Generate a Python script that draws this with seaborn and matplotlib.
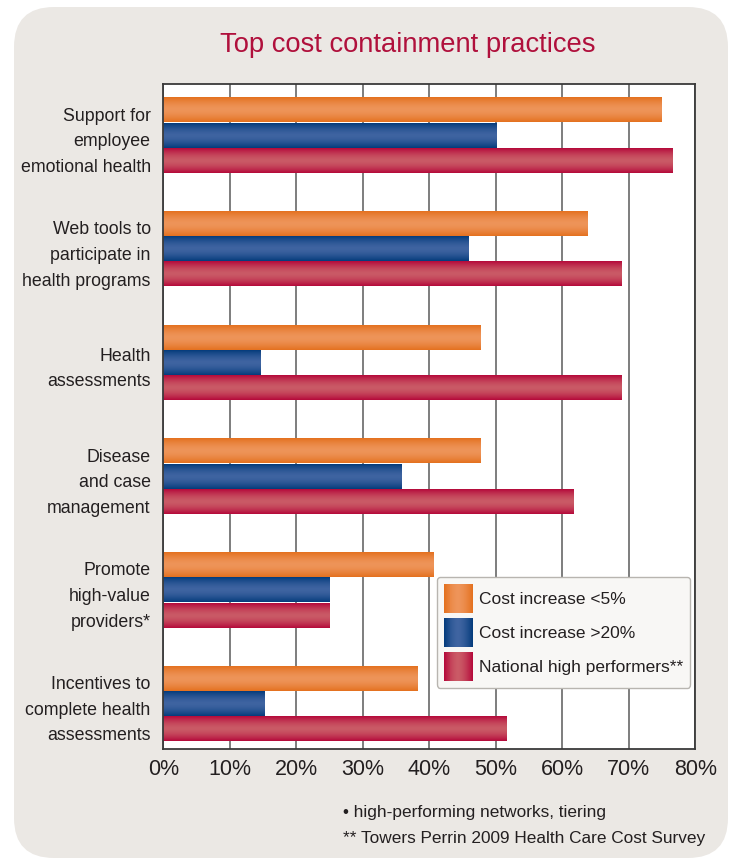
import numpy as np
import pandas as pd
import seaborn as sns
import matplotlib
matplotlib.use("Agg")
import matplotlib.pyplot as plt
from matplotlib.colors import LinearSegmentedColormap
from matplotlib.patches import FancyBboxPatch, Patch, Rectangle
from matplotlib.legend_handler import HandlerBase

# data
practices = [
    "Support for\nemployee\nemotional health",
    "Web tools to\nparticipate in\nhealth programs",
    "Health\nassessments",
    "Disease\nand case\nmanagement",
    "Promote\nhigh-value\nproviders*",
    "Incentives to\ncomplete health\nassessments",
]
groups = ["Cost increase <5%", "Cost increase >20%", "National high performers**"]
cost_low = [75.0, 63.8, 47.8, 47.8, 40.6, 38.3]
cost_high = [50.2, 46.0, 14.6, 35.9, 25.0, 15.3]
national = [76.6, 68.9, 68.9, 61.7, 25.0, 51.7]
x_ticks = [0, 10, 20, 30, 40, 50, 60, 70, 80]

# (edge, middle) colours for the cylinder shading
shades = [("#e4711f", "#ee9459"), ("#053c7c", "#3f64a1"), ("#b50a3b", "#ca5a66")]

sns.set_style("white")
plt.rcParams["font.family"] = ["Liberation Sans", "DejaVu Sans"]

df = pd.DataFrame({
    "practice": practices * 3,
    "group": np.repeat(groups, len(practices)),
    "pct": cost_low + cost_high + national,
})

fig = plt.figure(figsize=(7.3, 8.6), dpi=100)
fig.patch.set_facecolor("white")
panel = FancyBboxPatch((0.14, 0.02), 7.14, 8.51,
                       boxstyle="round,pad=0,rounding_size=0.4",
                       transform=fig.dpi_scale_trans,
                       facecolor="#ebe8e4", edgecolor="none", zorder=-10)
fig.add_artist(panel)

ax = fig.add_axes([0.2236, 0.1291, 0.7290, 0.7732])
sns.barplot(data=df, x="pct", y="practice", hue="group", order=practices,
            hue_order=groups, palette=[s[0] for s in shades], orient="h",
            width=0.667, gap=0.05, saturation=1, legend=False, ax=ax)

cmaps = [LinearSegmentedColormap.from_list(f"c{i}", [d, l]) for i, (d, l) in enumerate(shades)]
profile = (1 - np.abs(np.linspace(-1, 1, 64)) ** 1.6).reshape(-1, 1)

for container, cmap in zip(ax.containers, cmaps):
    for bar in container:
        x0, y0 = bar.get_xy()
        w, h = bar.get_width(), bar.get_height()
        bar.set_facecolor("none")
        bar.set_edgecolor("none")
        ax.imshow(profile, cmap=cmap, vmin=0, vmax=1, aspect="auto",
                  extent=(x0, x0 + w, y0 + h, y0), interpolation="bilinear", zorder=2)

ax.set_xlim(0, 80)
ax.set_ylim(5.396, -0.453)
ax.set_facecolor("white")
ax.set_axisbelow(True)
ax.xaxis.grid(True, color="#7d7d7d", lw=1.4)
ax.yaxis.grid(False)
ax.set_xticks(x_ticks)
ax.set_xticklabels([f"{v}%" for v in x_ticks], fontsize=15.5, color="#231f20")
ax.set_yticks(range(len(practices)))
ax.set_yticklabels(practices, fontsize=12.8, color="#231f20", linespacing=1.66)
ax.tick_params(axis="both", length=0)
ax.tick_params(axis="y", pad=9)
ax.tick_params(axis="x", pad=7)
ax.set_xlabel("")
ax.set_ylabel("")
for sp in ax.spines.values():
    sp.set_visible(True)
    sp.set_color("#3a3a3a")
    sp.set_linewidth(1.3)


class GradientHandler(HandlerBase):
    def __init__(self, cmap, n=30):
        super().__init__()
        self.cmap = cmap
        self.n = n

    def create_artists(self, legend, orig_handle, xdescent, ydescent,
                       width, height, fontsize, trans):
        shade = 1 - np.abs(np.linspace(-1, 1, self.n)) ** 1.6
        step = width / self.n
        return [Rectangle((-xdescent + i * step, -ydescent), step * 1.05, height,
                          facecolor=self.cmap(s), edgecolor="none", transform=trans)
                for i, s in enumerate(shade)]


handles = [Patch() for _ in groups]
leg = ax.legend(handles, groups, loc="upper left", bbox_to_anchor=(0.514, 0.2586),
                borderaxespad=0, fontsize=12.5, handlelength=1.67, handleheight=2.19,
                labelspacing=0.29, handletextpad=0.37, borderpad=0.4,
                frameon=True, fancybox=True, framealpha=1,
                handler_map={h: GradientHandler(c) for h, c in zip(handles, cmaps)})
leg.get_frame().set_facecolor("#f8f7f5")
leg.get_frame().set_edgecolor("#b8b5b0")
for t in leg.get_texts():
    t.set_color("#231f20")

fig.text(0.558, 0.948, "Top cost containment practices", ha="center", va="center",
         fontsize=19.7, color="#b0103c")
fig.text(0.47, 1 - 817 / 860, "\u2022 high-performing networks, tiering",
         ha="left", va="baseline", fontsize=12.4, color="#231f20")
fig.text(0.47, 1 - 843 / 860, "** Towers Perrin 2009 Health Care Cost Survey",
         ha="left", va="baseline", fontsize=12.4, color="#231f20")

fig.savefig("out.png", dpi=100)
